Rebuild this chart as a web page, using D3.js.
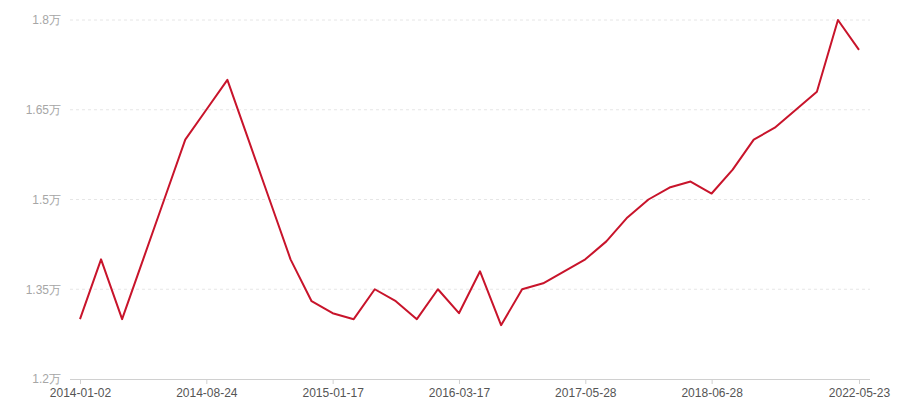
<!DOCTYPE html>
<html>
<head>
<meta charset="utf-8">
<script src="https://cdn.jsdelivr.net/npm/d3@7"></script>
<style>
  html, body { margin: 0; padding: 0; background: #fff; }
  svg { display: block; font-family: "Noto Sans CJK SC", "Noto Sans", sans-serif; }
</style>
</head>
<body>
<svg id="chart" width="900" height="400"></svg>
<script>
// Category labels (only the ones shown on the axis are known; others left null)
const dates = [
  "2014-01-02", null, null, null, null, null,
  "2014-08-24", null, null, null, null, null,
  "2015-01-17", null, null, null, null, null,
  "2016-03-17", null, null, null, null, null,
  "2017-05-28", null, null, null, null, null,
  "2018-06-28", null, null, null, null, null,
  null, "2022-05-23"
];
// Series values (unit: 万)
const values = [
  1.30, 1.40, 1.30, 1.40, 1.50, 1.60, 1.65, 1.70, 1.60, 1.50,
  1.40, 1.33, 1.31, 1.30, 1.35, 1.33, 1.30, 1.35, 1.31, 1.38,
  1.29, 1.35, 1.36, 1.38, 1.40, 1.43, 1.47, 1.50, 1.52, 1.53,
  1.51, 1.55, 1.60, 1.62, 1.65, 1.68, 1.80, 1.75
];
const yTicks = [1.2, 1.35, 1.5, 1.65, 1.8];
const shownLabelIdx = [0, 6, 12, 18, 24, 30, 37];

const svg = d3.select("#chart");
const plotLeft = 70, plotRight = 870, plotTop = 20, plotBottom = 379;

const x = d3.scalePoint()
  .domain(d3.range(values.length))
  .range([80, 859]);
const y = d3.scaleLinear().domain([1.2, 1.8]).range([plotBottom, plotTop]);

// grid lines
svg.append("g").selectAll("line")
  .data(yTicks.filter(t => t !== 1.2))
  .join("line")
  .attr("x1", plotLeft).attr("x2", plotRight)
  .attr("y1", d => y(d)).attr("y2", d => y(d))
  .attr("stroke", "#e6e6e6").attr("stroke-width", 1)
  .attr("stroke-dasharray", "3,3");

// y labels
const yAxis = d3.axisLeft(y).tickValues(yTicks).tickSize(0).tickPadding(0)
  .tickFormat(d => d3.format("~g")(d) + "万");
const gy = svg.append("g").attr("transform", `translate(61,0)`).call(yAxis);
gy.select(".domain").remove();
gy.selectAll("text").attr("fill", "#a6a6a6").attr("font-size", 12);

// x axis
const xAxis = d3.axisBottom(x).tickValues(shownLabelIdx).tickSize(5).tickPadding(4)
  .tickFormat(i => dates[i]);
const gx = svg.append("g").attr("transform", `translate(0,${plotBottom})`).call(xAxis);
gx.select(".domain").remove();
gx.selectAll(".tick line").attr("stroke", "#d0d0d0");
gx.selectAll("text").attr("fill", "#555").attr("font-size", 12);
svg.append("line")
  .attr("x1", plotLeft).attr("x2", plotRight)
  .attr("y1", plotBottom + 0.5).attr("y2", plotBottom + 0.5)
  .attr("stroke", "#d0d0d0").attr("stroke-width", 1);

// line
const line = d3.line().x((d, i) => x(i)).y(d => y(d));
svg.append("path")
  .datum(values)
  .attr("d", line)
  .attr("fill", "none")
  .attr("stroke", "#c8142b")
  .attr("stroke-width", 2)
  .attr("stroke-linejoin", "round");
</script>
</body>
</html>
